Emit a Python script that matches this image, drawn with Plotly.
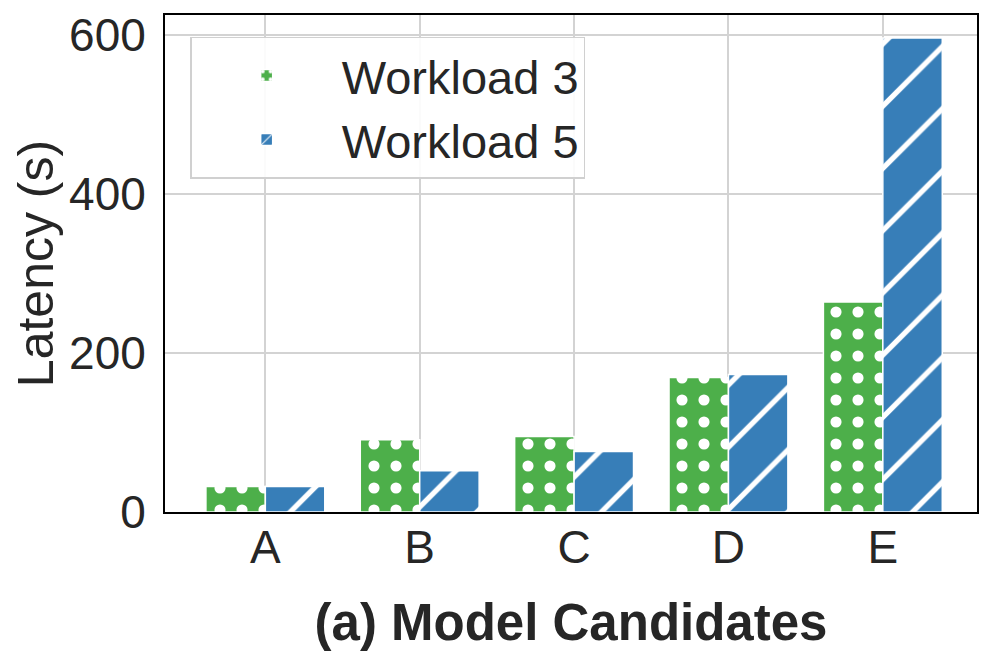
import plotly.graph_objects as go

categories = ["A", "B", "C", "D", "E"]
workload3 = [32, 91, 95, 169, 264]
workload5 = [32, 52, 76, 173, 596]
y_ticks = [0, 200, 400, 600]

GREEN = "#4daf4a"
BLUE = "#377eb8"
FONT = "Liberation Sans, Arial, sans-serif"
TXT = "#262626"

fig = go.Figure()
fig.add_trace(go.Bar(
    x=categories, y=workload3, name="Workload 3",
    marker=dict(color=GREEN, line=dict(color="white", width=1.5),
                pattern=dict(shape=".", fgcolor="white", fgopacity=1, size=22, solidity=0.2)),
))
fig.add_trace(go.Bar(
    x=categories, y=workload5, name="Workload 5",
    marker=dict(color=BLUE, line=dict(color="white", width=1.5),
                pattern=dict(shape="/", fgcolor="white", fgopacity=1, size=44, solidity=0.12)),
))

fig.update_layout(
    width=996, height=663,
    margin=dict(l=157, r=27, t=7, b=159, autoexpand=False),
    paper_bgcolor="white", plot_bgcolor="white",
    barmode="group", bargap=0.23, bargroupgap=0.0,
    font=dict(family=FONT, color=TXT, size=46),
    legend=dict(
        x=0.031, y=0.956, xanchor="left", yanchor="top",
        bgcolor="rgba(255,255,255,0.9)", bordercolor="#d0d0d0", borderwidth=1.5,
        font=dict(size=47, family=FONT, color=TXT),
        itemwidth=140, tracegroupgap=8,
    ),
    xaxis=dict(
        title=dict(text="<b>(a) Model Candidates</b>", font=dict(size=51, family=FONT, color=TXT), standoff=32),
        range=[-0.65, 4.61], automargin=False,
        showgrid=True, gridcolor="#d3d3d3", gridwidth=1.5,
        showline=True, linecolor="black", linewidth=2, mirror=True,
        ticks="", tickfont=dict(size=46), ticklabelstandoff=-6,
    ),
    yaxis=dict(
        title=dict(text="Latency (s)", font=dict(size=50, family=FONT, color=TXT), standoff=5),
        range=[0, 625], tickvals=y_ticks, automargin=False,
        showgrid=True, gridcolor="#d3d3d3", gridwidth=1.5,
        showline=True, linecolor="black", linewidth=2, mirror=True,
        zeroline=False, ticks="", tickfont=dict(size=46), ticklabelstandoff=8,
    ),
)

fig.write_html("out.html")
